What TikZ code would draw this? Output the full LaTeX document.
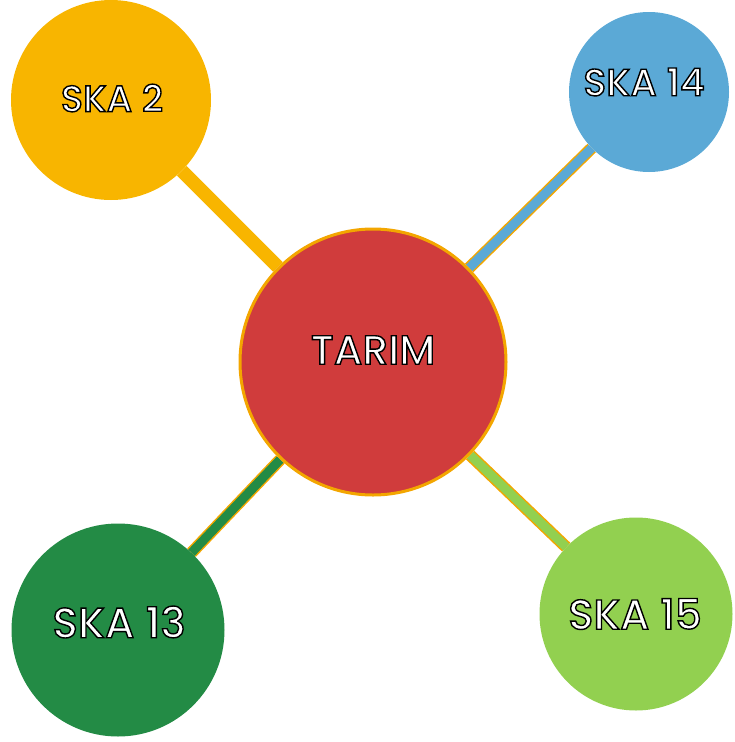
\documentclass[tikz,border=0pt]{standalone}
\usepackage{fontspec}
\setmainfont{Poppins}[UprightFont=* Medium]
\usetikzlibrary{backgrounds}
\definecolor{skayellow}{HTML}{F8B500}
\definecolor{skablue}{HTML}{5BA9D6}
\definecolor{tarimred}{HTML}{D03C3C}
\definecolor{rimorange}{HTML}{F3A600}
\definecolor{skadkgreen}{HTML}{238B45}
\definecolor{skaltgreen}{HTML}{92D050}
% white letters with a thin black rim (text render mode 2)
\newcommand{\lbl}[1]{\textcolor{white}{\special{pdf:literal direct 2 Tr 1.4 w 0 0 0 RG}#1\special{pdf:literal direct 0 Tr}}}
\begin{document}
\begin{tikzpicture}[x=1pt, y=-1pt,
		  ball/.style={circle, inner sep=0pt},
		  link/.style={line width=1.5pt, draw=rimorange, double distance=9pt}]
		  \useasboundingbox (0,0) rectangle (734,742);
		  \node[ball, fill=tarimred, draw=rimorange, line width=3pt, minimum size=266pt] (tarim) at (373,362) {};
		  \node[ball, fill=skayellow, minimum size=200pt] (ska2) at (111,100) {};
		  \node[ball, fill=skablue, minimum size=160pt] (ska14) at (649,92) {};
		  \node[ball, fill=skadkgreen, minimum size=213pt] (ska13) at (118,630) {};
		  \node[ball, fill=skaltgreen, minimum size=193pt] (ska15) at (636,614) {};
		  \node[font=\fontsize{41}{41}\selectfont] (tarimtxt) at (373,350) {\lbl{TARIM}};
		  \node[font=\fontsize{37}{37}\selectfont] (ska2txt) at (112,98) {\lbl{SKA 2}};
		  \node[font=\fontsize{38}{38}\selectfont] (ska14txt) at (644,82) {\lbl{SKA 14}};
		  \node[font=\fontsize{42.5}{42.5}\selectfont] (ska13txt) at (119,622) {\lbl{SKA 13}};
		  \node[font=\fontsize{42}{42}\selectfont] (ska15txt) at (635,614) {\lbl{SKA 15}};
		  \begin{scope}[on background layer]
		      \draw[line width=13.5pt, skayellow] (tarim) -- (ska2);
		      \draw[link, double=skablue] (tarim) -- (ska14);
		      \draw[link, double=skadkgreen] (tarim) -- (ska13);
		      \draw[link, double=skaltgreen] (tarim) -- (ska15);
		  \end{scope}
\end{tikzpicture}
\end{document}
